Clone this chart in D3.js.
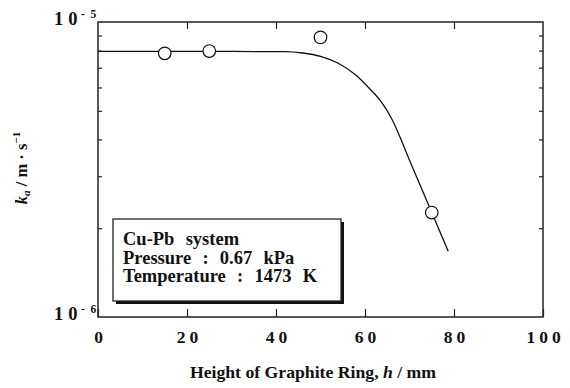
<!DOCTYPE html>
<html>
<head>
<meta charset="utf-8">
<script src="https://cdn.jsdelivr.net/npm/d3@7/dist/d3.min.js"></script>
<style>
  html, body { margin: 0; padding: 0; background: #fff; }
  svg { display: block; }
  text { font-family: "Liberation Serif", "Times New Roman", serif; font-weight: bold; fill: #111; }
</style>
</head>
<body>
<script>
// Measured mass-transfer coefficient k_a vs. graphite ring height
const heights = [15, 25, 50, 75];                       // h / mm
const kValues = [7.83e-6, 7.97e-6, 8.87e-6, 2.26e-6];   // k_a / m·s^-1

// Smooth guide curve drawn through the data
const curveH = [0, 30, 42, 46, 50, 54, 58, 61, 63.5, 66, 70, 75, 78.7];
const curveK = [7.95e-6, 7.95e-6, 7.93e-6, 7.85e-6, 7.65e-6, 7.25e-6, 6.6e-6,
                5.95e-6, 5.4e-6, 4.7e-6, 3.4e-6, 2.26e-6, 1.67e-6];

// Axis ticks
const xTicks = [0, 20, 40, 60, 80, 100];
const xTickLabels = ["0", "20", "40", "60", "80", "100"];
const yMinor = [2e-6, 3e-6, 4e-6, 5e-6, 6e-6, 7e-6, 8e-6, 9e-6];
const yMajor = [1e-6, 1e-5];
const yMajorExp = ["6", "5"];

// Legend text
const infoLines = ["Cu-Pb  system", "Pressure  :  0.67  kPa", "Temperature  :  1473  K"];

const W = 570, H = 388;
const FONT = "Liberation Serif, Times New Roman, serif";
const svg = d3.select("body").append("svg").attr("width", W).attr("height", H);

const x = d3.scaleLinear().domain([0, 100]).range([98, 543]);
const y = d3.scaleLog().domain([1e-6, 1e-5]).range([317, 22]);

const axisColor = "#222";

// Frame
svg.append("rect")
  .attr("x", x(0)).attr("y", y(1e-5))
  .attr("width", x(100) - x(0)).attr("height", y(1e-6) - y(1e-5))
  .attr("fill", "none").attr("stroke", axisColor).attr("stroke-width", 1.5);

// Bottom axis (inward ticks + labels)
const gx = svg.append("g").attr("transform", `translate(0,${y(1e-6)})`)
  .call(d3.axisBottom(x).tickValues(xTicks).tickSize(-8).tickPadding(14)
    .tickFormat((d, i) => xTickLabels[i]));
gx.select(".domain").remove();
gx.selectAll("line").attr("stroke", axisColor).attr("stroke-width", 1.2);
gx.selectAll("text").attr("font-size", 17.5).attr("letter-spacing", 4).attr("dx", 2)
  .attr("font-family", FONT).attr("font-weight", "bold").attr("fill", "#111");

// Top axis ticks
const gxt = svg.append("g").attr("transform", `translate(0,${y(1e-5)})`)
  .call(d3.axisTop(x).tickValues(xTicks.slice(1, -1)).tickSize(-7).tickFormat(""));
gxt.select(".domain").remove();
gxt.selectAll("line").attr("stroke", axisColor).attr("stroke-width", 1.2);

// Left and right minor ticks
const gyl = svg.append("g").attr("transform", `translate(${x(0)},0)`)
  .call(d3.axisLeft(y).tickValues(yMinor).tickSize(-4).tickFormat(""));
gyl.select(".domain").remove();
gyl.selectAll("line").attr("stroke", axisColor).attr("stroke-width", 1.2);
const gyr = svg.append("g").attr("transform", `translate(${x(100)},0)`)
  .call(d3.axisRight(y).tickValues(yMinor).tickSize(-4).tickFormat(""));
gyr.select(".domain").remove();
gyr.selectAll("line").attr("stroke", axisColor).attr("stroke-width", 1.2);

// Decade labels 10^-n (base and exponent as separate texts)
yMajor.forEach((v, i) => {
  svg.append("text")
    .attr("x", 54).attr("y", y(v) + 3)
    .attr("font-family", FONT).attr("font-size", 18.5)
    .attr("letter-spacing", 5)
    .text("10");
  svg.append("text")
    .attr("x", 81).attr("y", y(v) - 4)
    .attr("font-family", FONT).attr("font-size", 11.5)
    .attr("xml:space", "preserve").style("white-space", "pre")
    .text("-  " + yMajorExp[i]);
});

// Guide curve
const line = d3.line()
  .x(d => x(d[0])).y(d => y(d[1]))
  .curve(d3.curveMonotoneX);
svg.append("path")
  .datum(curveH.map((h, i) => [h, curveK[i]]))
  .attr("d", line)
  .attr("fill", "none").attr("stroke", "#111").attr("stroke-width", 1.3);

// Data points
svg.selectAll("circle.pt")
  .data(heights.map((h, i) => [h, kValues[i]]))
  .enter().append("circle").attr("class", "pt")
  .attr("cx", d => x(d[0])).attr("cy", d => y(d[1]))
  .attr("r", 6.3)
  .attr("fill", "#fff").attr("stroke", "#111").attr("stroke-width", 1.2);

// Conditions box with drop shadow
const bx = 113, by = 219, bw = 228, bh = 82;
svg.append("rect").attr("x", bx + 3).attr("y", by + 3).attr("width", bw).attr("height", bh)
  .attr("fill", "#111");
svg.append("rect").attr("x", bx).attr("y", by).attr("width", bw).attr("height", bh)
  .attr("fill", "#fff").attr("stroke", "#222").attr("stroke-width", 1.3);
svg.selectAll("text.info")
  .data(infoLines).enter().append("text").attr("class", "info")
  .attr("x", 123).attr("y", (d, i) => 245 + i * 18.5)
  .attr("font-family", FONT)
  .attr("font-size", 18.5)
  .attr("word-spacing", 1)
  .attr("xml:space", "preserve")
  .style("white-space", "pre")
  .text(d => d);

// X axis title
const xt = svg.append("text")
  .attr("x", 313).attr("y", 378).attr("text-anchor", "middle")
  .attr("font-family", FONT).attr("font-size", 17.7);
xt.append("tspan").text("Height of Graphite Ring, ");
xt.append("tspan").attr("font-style", "italic").text("h");
xt.append("tspan").text(" / mm");

// Y axis title
const yt = svg.append("text")
  .attr("transform", "translate(27,168) rotate(-90)")
  .attr("text-anchor", "middle").attr("font-family", FONT).attr("font-size", 16.5);
yt.append("tspan").attr("font-style", "italic").text("k");
yt.append("tspan").attr("font-style", "italic").attr("font-size", 11).attr("dy", 3).text("a");
yt.append("tspan").attr("dy", -3).text(" / m · s");
yt.append("tspan").attr("dy", -7).attr("font-size", 11).text("−1");
</script>
</body>
</html>
